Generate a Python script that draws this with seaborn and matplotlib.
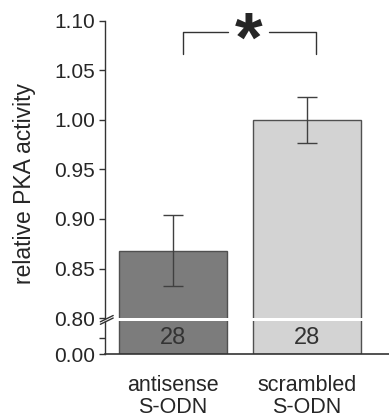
import matplotlib
matplotlib.use("Agg")
import matplotlib.pyplot as plt
import seaborn as sns
import pandas as pd

# dati
groups = ["antisense\nS-ODN", "scrambled\nS-ODN"]
activity = [0.868, 1.000]
sem = [0.036, 0.023]
n_cells = ["28", "28"]
bar_colors = ["#7c7c7c", "#d3d3d3"]
upper_ticks = [0.80, 0.85, 0.90, 0.95, 1.00, 1.05, 1.10]

sns.set_style("ticks")
plt.rcParams["font.family"] = ["Liberation Sans", "DejaVu Sans"]

df = pd.DataFrame({"group": groups, "activity": activity})

fig = plt.figure(figsize=(3.89, 4.19), dpi=100)
ax_top = fig.add_axes([0.27, 0.241, 0.73, 0.709])
ax_bot = fig.add_axes([0.27, 0.155, 0.73, 0.078])

for ax in (ax_top, ax_bot):
    sns.barplot(data=df, x="group", y="activity", hue="group", palette=bar_colors,
                width=0.806, edgecolor="#505050", linewidth=1.0, legend=False, ax=ax)
    ax.set_xlim(-0.507, 1.612)
    ax.set_xlabel("")
    ax.set_ylabel("")
    sns.despine(ax=ax)

# asse superiore: 0.80 - 1.10
ax_top.set_ylim(0.80, 1.10)
ax_top.set_yticks(upper_ticks)
ax_top.set_yticklabels([f"{t:.2f}" for t in upper_ticks])
ax_top.spines["bottom"].set_visible(False)
ax_top.tick_params(axis="x", bottom=False, labelbottom=False)
ax_top.errorbar(range(len(groups)), activity, yerr=sem, fmt="none",
                ecolor="#404040", elinewidth=1.0, capsize=7, capthick=1.0)

# asse inferiore: 0 - 0.10
ax_bot.set_ylim(0, 0.10)
ax_bot.set_yticks([0.0, 0.05])
ax_bot.set_yticklabels(["0.00", ""])
ax_bot.tick_params(axis="x", length=0, pad=15, labelsize=15.5)
for lab in ax_bot.get_xticklabels():
    lab.set_linespacing(1.05)
for i, n in enumerate(n_cells):
    ax_bot.text(i, 0.05, n, ha="center", va="center", fontsize=17, color="#333333")

for ax in (ax_top, ax_bot):
    ax.tick_params(axis="y", labelsize=15, length=4, width=1.0, color="#333333", pad=3)
    ax.spines["left"].set_linewidth(1.0)
    ax.spines["left"].set_color("#333333")
ax_bot.spines["bottom"].set_linewidth(1.2)
ax_bot.spines["bottom"].set_color("#333333")

# segni di interruzione dell'asse
for dy in (0.0, 0.006):
    fig.add_artist(plt.Line2D([0.258, 0.291], [0.226 + dy, 0.241 + dy],
                              color="#333333", lw=1.0, transform=fig.transFigure))
fig.add_artist(plt.Rectangle((0.262, 0.2335), 0.02, 0.004, color="white",
                             transform=fig.transFigure, zorder=0))

# parentesi di significatività
ax_top.plot([0.075, 0.075, 0.41], [1.067, 1.089, 1.089], color="#333333", lw=1.0, clip_on=False)
ax_top.plot([0.72, 1.067, 1.067], [1.089, 1.089, 1.067], color="#333333", lw=1.0, clip_on=False)
ax_top.text(0.565, 1.059, "*", ha="center", va="baseline", fontsize=51, fontweight="bold")

fig.text(0.064, 0.562, "relative PKA activity", rotation=90, ha="center", va="center",
         fontsize=16.5)

fig.savefig("out.png", dpi=100)
